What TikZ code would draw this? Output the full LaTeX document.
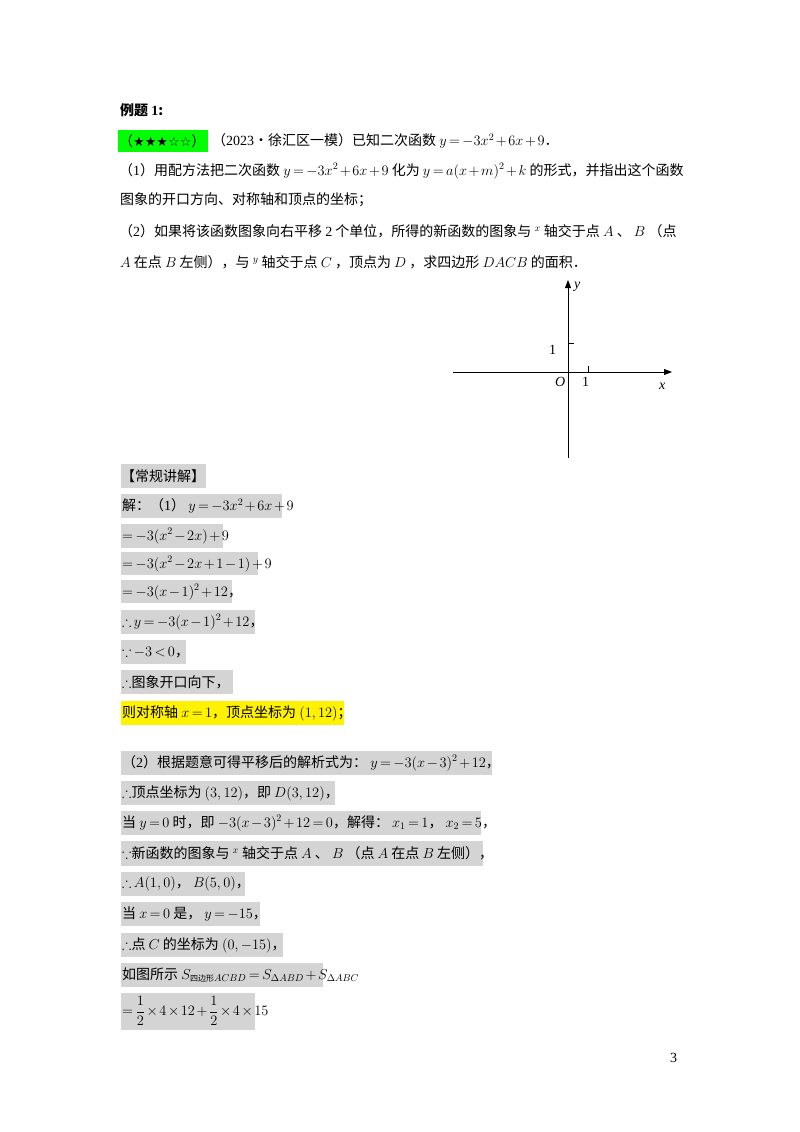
\documentclass[tikz,border=0pt]{standalone}
\usepackage{amsmath,amssymb}
\usepackage{fontspec}
\setmainfont{Noto Sans CJK SC}
\newfontfamily\lserif{Liberation Serif}
\newfontfamily\djv{DejaVu Sans}
\usetikzlibrary{arrows.meta}
\newcommand{\mi}[1]{{\lserif\itshape #1}}
\newcommand{\mr}[1]{{\lserif #1}}
\medmuskip=2mu plus 1mu
\thickmuskip=3mu plus 2mu
\begin{document}
\begin{tikzpicture}[x=1pt,y=-1pt,
  txt/.style={anchor=west,inner sep=0pt,font=\fontsize{14}{17}\selectfont},
  gbox/.style={fill=black!17,draw=none},
  ax/.style={line width=0.8pt,-{Triangle[length=8pt,width=6pt]}}]
\useasboundingbox (0,0) rectangle (800,1132);
\fill[white] (0,0) rectangle (800,1132);
\node[txt,font=\fontsize{14}{17}\selectfont\bfseries] (t0) at (120,110) {例题 \mr{\textbf{1}}:};
\fill[green] (118,130) rectangle (208,152);
\node[txt] (star) at (119,141) {（{\djv\fontsize{13}{14}\selectfont ★★★☆☆}）};
\node[txt] (l1) at (212,141) {（\mr{2023}•徐汇区一模）已知二次函数 $y=-3x^2+6x+9$．};
\node[txt] (l2) at (119,171) {（\mr{1}）用配方法把二次函数 $y=-3x^2+6x+9$ 化为 $y=a(x+m)^2+k$ 的形式，并指出这个函数};
\node[txt] (l3) at (120,200) {图象的开口方向、对称轴和顶点的坐标；};
\node[txt] (l4) at (119,231) {（\mr{2}）如果将该函数图象向右平移 \mr{2} 个单位，所得的新函数的图象与 $^x$ 轴交于点 $A$ 、 $B$ （点};
\node[txt] (l5) at (120,262) {$A$ 在点 $B$ 左侧），与 $^y$ 轴交于点 $C$ ，顶点为 $D$ ，求四边形 $DACB$ 的面积．};
% axes
\coordinate (xl) at (453,372); \coordinate (xr) at (672,372);
\coordinate (yb) at (568,458); \coordinate (yt) at (568,280);
\draw[ax] (xl) -- (xr);
\draw[ax] (yb) -- (yt);
\draw[line width=0.6pt] (568,343) -- (574,343);
\draw[line width=0.6pt] (588,372) -- (588,366);
\node[txt] (ylab) at (574,287) {\mi{y}};
\node[txt] (one1) at (549,350) {\mr{1}};
\node[txt] (O) at (555,382) {\mi{O}};
\node[txt] (one2) at (582,382) {\mr{1}};
\node[txt] (xlab) at (659,386) {\mi{x}};
% solution boxes
\foreach \a/\b/\c/\d in {121/206/464/488,121/282/494/518,121/223/524/548,121/258/552/575,121/232/580/603,121/255/610/634,121/186/640/664,121/233/670/694,121/492/751/775,121/335/781/805,121/481/811/835,121/483/841/866,121/245/872/896,121/260/902/926,121/283/933/957,121/323/963/987,121/255/993/1030}
  \fill[gbox] (\a,\c) rectangle (\b,\d);
\fill[yellow] (121,701) rectangle (344,725);
\node[txt] (s0) at (121,476) {【常规讲解】};
\node[txt] (s1) at (122,506) {解：（\mr{1}） $y=-3x^2+6x+9$};
\node[txt] (s2) at (122,536) {$=-3(x^2-2x)+9$};
\node[txt] (s3) at (122,564) {$=-3(x^2-2x+1-1)+9$};
\node[txt] (s4) at (122,592) {$=-3(x-1)^2+12$，};
\node[txt] (s5) at (122,622) {$\therefore y=-3(x-1)^2+12$，};
\node[txt] (s6) at (122,652) {$\because -3<0$，};
\node[txt] (s7) at (122,682) {$\therefore$图象开口向下，};
\node[txt] (s8) at (122,713) {则对称轴 $x=1$，顶点坐标为 $(1,12)$；};
\node[txt] (r1) at (122,763) {（\mr{2}）根据题意可得平移后的解析式为： $y=-3(x-3)^2+12$，};
\node[txt] (r2) at (122,793) {$\therefore$顶点坐标为 $(3,12)$，即 $D(3,12)$，};
\node[txt] (r3) at (122,823) {当 $y=0$ 时，即 $-3(x-3)^2+12=0$，解得： $x_1=1$， $x_2=5$，};
\node[txt] (r4) at (122,853) {$\because$新函数的图象与 $^x$ 轴交于点 $A$ 、 $B$ （点 $A$ 在点 $B$ 左侧），};
\node[txt] (r5) at (122,884) {$\therefore A(1,0)$， $B(5,0)$，};
\node[txt] (r6) at (122,914) {当 $x=0$ 是， $y=-15$，};
\node[txt] (r7) at (122,945) {$\therefore$点 $C$ 的坐标为 $(0,-15)$，};
\node[txt] (r8) at (122,975) {如图所示 $S_{\text{\fontsize{8}{9}\selectfont 四边形}ACBD}=S_{\Delta ABD}+S_{\Delta ABC}$};
\node[txt] (r9) at (122,1011) {$=\dfrac12\times4\times12+\dfrac12\times4\times15$};
\node[txt] (pg) at (670,1058) {\mr{3}};
\end{tikzpicture}
\end{document}
